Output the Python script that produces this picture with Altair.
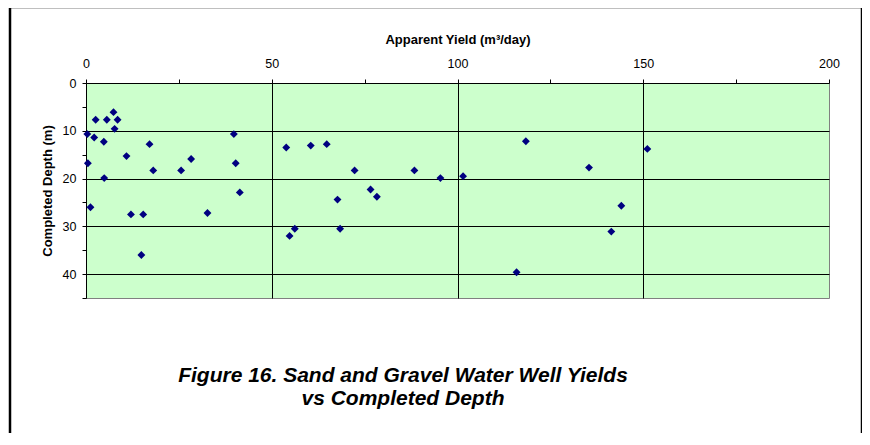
import altair as alt
import pandas as pd

# Apparent yield (m3/day) and completed depth (m)
yields = [0.35, 2.2, 2.6, 5.6, 7.4, 8.5, 7.7, 4.8, 0.5, 10.9, 17.1, 18.1, 4.9, 1.2,
          12.1, 15.4, 14.9, 25.6, 28.3, 32.7, 39.8, 40.3, 41.4,
          53.9, 54.8, 56.2, 60.5, 64.8, 67.7, 68.4, 72.3, 76.6, 78.3, 88.4, 95.4, 101.5,
          118.4, 115.9, 135.4, 144.1, 141.4, 151.1]
depths = [10.7, 11.4, 7.7, 7.7, 6.1, 7.7, 9.6, 12.3, 16.8, 15.3, 12.8, 18.3, 19.9, 26.0,
          27.5, 27.5, 36.0, 18.3, 15.9, 27.2, 10.7, 16.8, 22.9,
          13.5, 32.0, 30.5, 13.1, 12.8, 24.4, 30.5, 18.3, 22.3, 23.8, 18.3, 19.9, 19.5,
          12.2, 39.6, 17.7, 25.7, 31.1, 13.8]

x_ticks = [0, 25, 50, 75, 100, 125, 150, 175, 200]
y_ticks = [0, 5, 10, 15, 20, 25, 30, 35, 40, 45]

caption = ["Figure 16. Sand and Gravel Water Well Yields", "vs Completed Depth"]

df = pd.DataFrame({"yield": yields, "depth": depths})

FONT = "Liberation Sans"

points = alt.Chart(df).mark_point(
    shape="diamond", filled=True, color="#000080", size=62, opacity=1
).encode(
    x=alt.X("yield:Q",
            scale=alt.Scale(domain=[0, 200], nice=False, zero=False),
            axis=alt.Axis(
                orient="top", values=x_ticks, title="Apparent Yield (m³/day)",
                labelExpr="datum.value % 50 === 0 ? datum.label : ''",
                labelFlush=False, labelOverlap=False,
                gridOpacity={"condition": {"test": "datum.value % 50 === 0 && datum.value > 0 && datum.value < 200", "value": 1}, "value": 0},
                gridColor="#000000", gridWidth=1,
                domainColor="#000000", tickColor="#000000", tickSize=4,
                labelPadding=9, titlePadding=11,
                labelFont=FONT, labelFontSize=12.5, labelColor="#000000",
                titleFont=FONT, titleFontSize=13, titleFontWeight="bold", titleColor="#000000",
            )),
    y=alt.Y("depth:Q",
            scale=alt.Scale(domain=[0, 45], reverse=True, nice=False, zero=False),
            axis=alt.Axis(
                orient="left", values=y_ticks, title="Completed Depth (m)",
                labelExpr="datum.value % 10 === 0 ? datum.label : ''",
                labelFlush=False, labelOverlap=False,
                gridOpacity={"condition": {"test": "datum.value % 10 === 0 && datum.value > 0 && datum.value < 45", "value": 1}, "value": 0},
                gridColor="#000000", gridWidth=1,
                domainColor="#000000", tickColor="#000000", tickSize=4,
                labelPadding=6, titlePadding=8,
                labelFont=FONT, labelFontSize=12.5, labelColor="#000000",
                titleFont=FONT, titleFontSize=13, titleFontWeight="bold", titleColor="#000000",
            )),
)

frame = alt.Chart(alt.Data(values=[{}])).mark_rect(
    fill=None, stroke="#000000", strokeWidth=2.5, clip=False
).encode(
    x=alt.value(-76), x2=alt.value(776),
    y=alt.value(-76), y2=alt.value(420),
)

cap = alt.Chart(alt.Data(values=[{"t": caption}])).mark_text(
    font=FONT, fontSize=21, fontWeight="bold", fontStyle="italic",
    align="center", baseline="alphabetic", lineHeight=23, color="#000000",
).encode(
    text="t:N", x=alt.value(317), y=alt.value(299),
)

chart = alt.layer(points, frame, cap).properties(
    width=743, height=215,
    autosize=alt.AutoSizeParams(type="none"),
    padding={"left": 78, "top": 75, "right": 33, "bottom": 135},
    background="#ffffff",
).configure_view(
    fill="#CCFFCC", stroke="#808080", strokeWidth=1,
)

chart.save("out.html", embed_options={"renderer": "svg", "actions": False})
